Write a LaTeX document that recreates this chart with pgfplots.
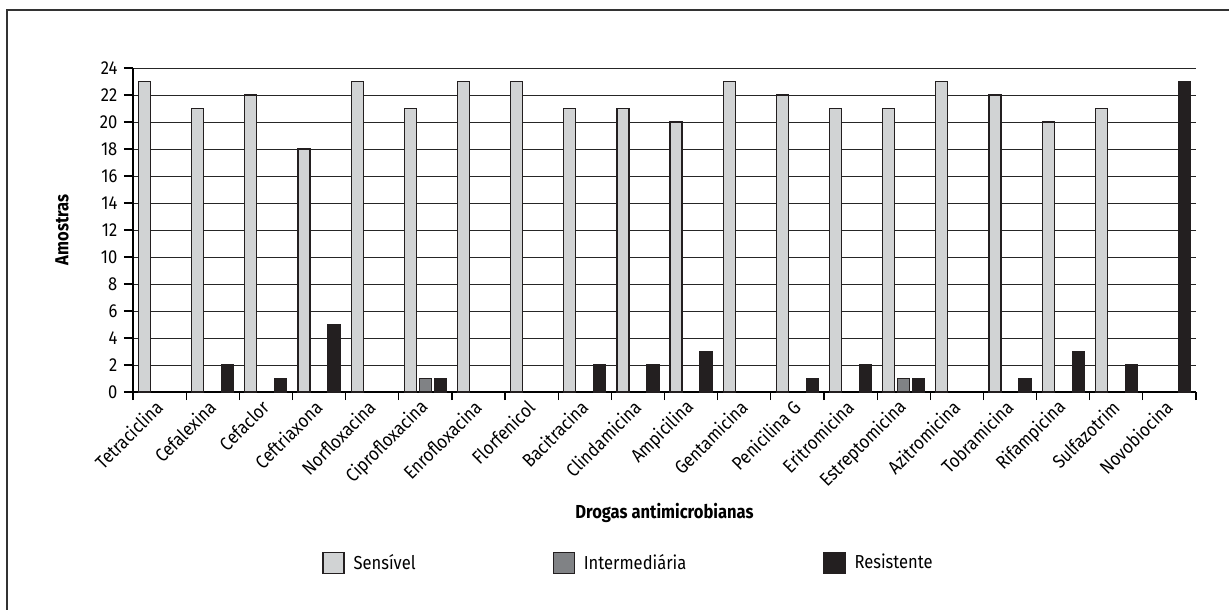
\documentclass[border=0pt]{standalone}
\usepackage{pgfplots}
\pgfplotsset{compat=1.18}
\usepackage{fontspec}
\setmainfont{Fira Sans}[FakeStretch=0.88]
\definecolor{cS}{HTML}{D1D3D4}
\definecolor{cI}{HTML}{808285}
\definecolor{cR}{HTML}{231F20}
\definecolor{cL}{HTML}{231F20}
\begin{document}
\fontsize{9.4pt}{11pt}\selectfont
\begin{tikzpicture}
\begin{axis}[
  scale only axis,
  width=531.5pt, height=162pt,
  at={(0,0)}, anchor=south west,
  xmin=-0.5, xmax=19.5,
  ymin=0, ymax=24,
  ytick={0,2,...,24},
  ymajorgrids,
  grid style={line width=0.5pt, color=black!85},
  axis x line*=bottom, axis y line*=left,
  axis line style={line width=0.6pt, color=black, -},
  xtick={0,...,19},
  xticklabels={Tetraciclina,Cefalexina,Cefaclor,Ceftriaxona,Norfloxacina,Ciprofloxacina,Enrofloxacina,Florfenicol,Bacitracina,Clindamicina,Ampicilina,Gentamicina,Penicilina G,Eritromicina,Estreptomicina,Azitromicina,Tobramicina,Rifampicina,Sulfazotrim,Novobiocina},
  minor xtick={-0.5,0.5,...,19.5},
  major x tick style={draw=none},
  minor x tick style={line width=0.6pt, color=black},
  minor tick length=4pt,
  tick align=outside,
  y tick style={line width=0.6pt, color=black},
  major tick length=4.5pt,
  xticklabel style={rotate=45, anchor=east, font=\fontsize{9.4pt}{11pt}\selectfont, yshift=-1pt, xshift=2pt},
  yticklabel style={font=\fontsize{9.4pt}{11pt}\selectfont},
  /pgf/number format/assume math mode=true,
  ybar, bar width=6pt,
  every axis plot/.append style={draw=cL, line width=0.6pt},
  xlabel={\bfseries Drogas antimicrobianas},
  ylabel={\bfseries Amostras},
  every axis x label/.style={at={(axis description cs:0.5,0)}, anchor=center, yshift=-60.5pt},
  every axis y label/.style={at={(axis description cs:0,0.5)}, anchor=center, xshift=-35.5pt, rotate=90},
  legend columns=3,
  legend style={draw=none, at={(0.1778,-0.528)}, anchor=west, inner sep=0pt,
     font=\fontsize{9.4pt}{11pt}\selectfont,
     nodes={inner xsep=4.5pt},
     /tikz/every even column/.append style={column sep=64pt}},
  legend image code/.code={\draw[#1] (0pt,-5.25pt) rectangle (10.5pt,5.25pt);},
]
\addplot[fill=cS, bar shift=-7.5pt] coordinates {(0,23) (1,21) (2,22) (3,18) (4,23) (5,21) (6,23) (7,23) (8,21) (9,21) (10,20) (11,23) (12,22) (13,21) (14,21) (15,23) (16,22) (17,20) (18,21)};
\addplot[fill=cI, bar shift=0pt] coordinates {(5,1) (14,1)};
\addplot[fill=cR, bar shift=7.5pt] coordinates {(1,2) (2,1) (3,5) (5,1) (8,2) (9,2) (10,3) (12,1) (13,2) (14,1) (16,1) (17,3) (18,2) (19,23)};
\legend{Sensível,Intermediária,Resistente}
\end{axis}
\draw[line width=0.8pt, color=black!80] (548pt,191pt) -- (-63pt,191pt) -- (-63pt,-109pt);
\pgfresetboundingbox
\path[use as bounding box] (-66.5pt,-109pt) rectangle (548pt,196pt);
\end{tikzpicture}
\end{document}
